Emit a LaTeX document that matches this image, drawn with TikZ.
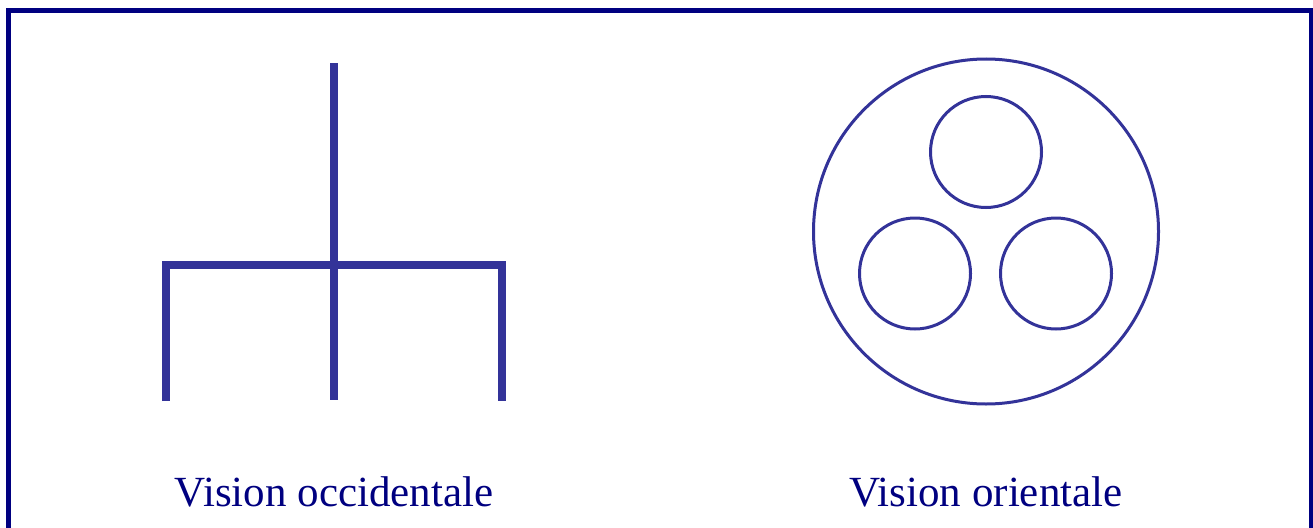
\documentclass[tikz,border=0pt]{standalone}
\usepackage{fontspec}
\setmainfont{Liberation Serif}
\definecolor{frameblue}{HTML}{000080}
\definecolor{shapeblue}{HTML}{333399}
\definecolor{textblue}{HTML}{000080}
\begin{document}
\begin{tikzpicture}[x=1pt,y=-1pt,
  tree/.style={draw=shapeblue,line width=8pt},
  ring/.style={circle,draw=shapeblue,line width=3pt,inner sep=0pt,minimum size=#1},
  label/.style={text=textblue,font=\fontsize{43}{46}\selectfont,inner sep=0pt,anchor=base}]
\useasboundingbox (0,0) rectangle (1313,527);
\clip (0,0) rectangle (1313,527);
\fill[white] (0,0) rectangle (1313,527);
\draw[frameblue,line width=5pt] (8.5,10.5) -- (1311.5,10.5) -- (1311.5,540) -- (8.5,540) -- cycle;
% western tree
\coordinate (top) at (334,63);
\coordinate (mid) at (334,265);
\coordinate (bot) at (334,400);
\coordinate (lt) at (166,265);
\coordinate (lb) at (166,401);
\coordinate (rt) at (502,265);
\coordinate (rb) at (502,401);
\draw[tree] (top) -- (bot);
\draw[tree] (lb) -- (lt) -- (rt) -- (rb);
% eastern circles
\node[ring=345pt] (big) at (986,231.5) {};
\node[ring=111pt] (c1) at (986,152) {};
\node[ring=111pt] (c2) at (915,273.5) {};
\node[ring=111pt] (c3) at (1056,273.5) {};
\node[label] (t1) at (334,506) {Vision occidentale};
\node[label] (t2) at (986,506) {Vision orientale};
\end{tikzpicture}
\end{document}
